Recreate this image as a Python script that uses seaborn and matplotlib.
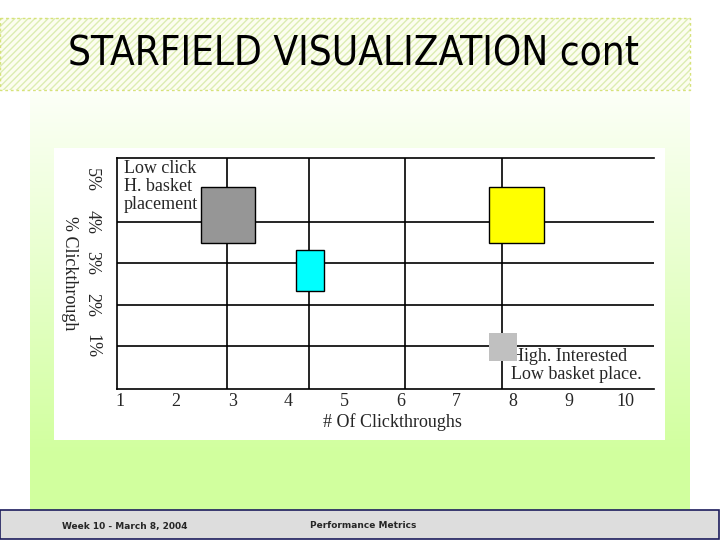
import numpy as np
import matplotlib
matplotlib.use("Agg")
import matplotlib.pyplot as plt
from matplotlib.patches import Rectangle
import seaborn as sns

# data
x_ticks = [1, 2, 3, 4, 5, 6, 7, 8, 9, 10]
y_ticks = [1, 2, 3, 4, 5]
y_tick_labels = ["1%", "2%", "3%", "4%", "5%"]

# table lines of the starfield
grid_x = [2.91, 4.37, 6.08, 7.81]
grid_y = [1, 2, 3, 4]

# boxes: centre x, bottom y, width, height
box_x = [2.92, 4.39, 8.07, 7.83]
box_bottom = [3.49, 2.32, 3.48, 0.65]
box_w = [0.955, 0.50, 0.985, 0.50]
box_h = [1.34, 0.99, 1.34, 0.67]
box_colors = ["#969696", "#00ffff", "#ffff00", "#c0c0c0"]
box_edges = ["black", "black", "black", "none"]

sns.set_style("white")
plt.rcParams["font.family"] = ["DejaVu Sans"]

fig = plt.figure(figsize=(7.2, 5.4), dpi=100)

# slide background drawn in pixel coords
bg = fig.add_axes([0, 0, 1, 1])
bg.set_xlim(0, 720)
bg.set_ylim(540, 0)
bg.axis("off")

top_c = np.array([0.99, 1.0, 0.97])
bot_c = np.array([0.82, 1.0, 0.62])
t = np.clip(np.linspace(0, 1, 200) * 1.15, 0, 1)[:, None]
grad = (top_c * (1 - t) + bot_c * t)[:, None, :]
bg.imshow(grad, extent=[30, 690, 510, 92], aspect="auto", zorder=0)

bg.add_patch(Rectangle((0, 18), 690, 72, facecolor="#fcfdf0", edgecolor="#dcedb2",
                       hatch="/////", linewidth=0, zorder=1))
bg.add_patch(Rectangle((0, 18), 690, 72, facecolor="none", edgecolor="#d6e27a",
                       linestyle=(0, (2, 2)), linewidth=1, zorder=2))
bg.text(354, 54, "STARFIELD VISUALIZATION cont", fontsize=29, ha="center", va="center",
        fontstretch="condensed", color="black", zorder=3)

bg.add_patch(Rectangle((54, 148), 611, 292, facecolor="white", edgecolor="none", zorder=1))

bg.add_patch(Rectangle((0, 510), 719, 29, facecolor="#dddddd", edgecolor="#1c1c5c",
                       linewidth=1.2, zorder=1))
bg.text(62, 526, "Week 10 - March 8, 2004", fontsize=6.5, weight="bold", va="center")
bg.text(310, 526, "Performance Metrics", fontsize=6.5, weight="bold", va="center")

# the chart itself
ax = fig.add_axes([117 / 720, (540 - 389) / 540, 537 / 720, 231 / 540])
ax.set_facecolor("white")
ax.set_xlim(0.947, 10.517)
ax.set_ylim(-0.03, 5.53)

for gx in grid_x:
    ax.axvline(gx, color="black", lw=1.2, zorder=1)
for gy in grid_y:
    ax.axhline(gy, color="black", lw=1.2, zorder=1)

ax.bar(box_x, box_h, width=box_w, bottom=box_bottom, color=box_colors,
       edgecolor=box_edges, linewidth=1, zorder=3)

serif = ["Liberation Serif", "DejaVu Serif"]
ax.text(1.07, 5.47, "Low click\nH. basket\nplacement", family=serif, fontsize=13,
        ha="left", va="top", linespacing=1.05, zorder=2)
ax.text(7.97, 0.96, "High. Interested\nLow basket place.", family=serif, fontsize=13,
        ha="left", va="top", linespacing=1.05, zorder=2)

ax.set_xticks(x_ticks)
ax.set_xticklabels([str(v) for v in x_ticks], family=serif, fontsize=13)
ax.set_yticks(y_ticks)
ax.set_yticklabels(y_tick_labels, family=serif, fontsize=13, rotation=-90, va="center")
ax.tick_params(axis="x", length=0, pad=3)
ax.tick_params(axis="y", length=0, pad=12)

ax.set_xlabel("# Of Clickthroughs", family=serif, fontsize=13, va="center")
ax.xaxis.set_label_coords(0.512, -0.145)
ax.set_ylabel("% Clickthrough", family=serif, fontsize=13, rotation=-90, va="center", ha="center")
ax.yaxis.set_label_coords(-0.088, 0.5)

sns.despine(ax=ax, top=False, right=True)
for s in ["left", "bottom", "top"]:
    ax.spines[s].set_color("black")
    ax.spines[s].set_linewidth(1.2)

fig.savefig("out.png", dpi=100)
